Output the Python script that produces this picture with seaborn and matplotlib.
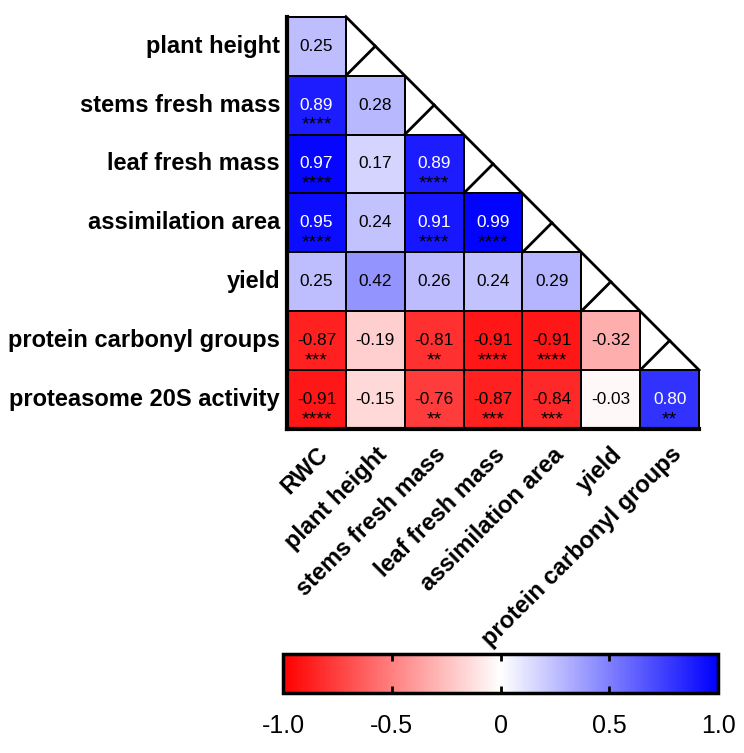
import numpy as np
import pandas as pd
import seaborn as sns
import matplotlib
matplotlib.use("Agg")
from matplotlib import pyplot as plt

plt.rcParams["font.family"] = ["Liberation Sans", "DejaVu Sans"]

# Variables (rows / columns of the lower triangle)
row_names = ["plant height", "stems fresh mass", "leaf fresh mass", "assimilation area",
             "yield", "protein carbonyl groups", "proteasome 20S activity"]
col_names = ["RWC", "plant height", "stems fresh mass", "leaf fresh mass",
             "assimilation area", "yield", "protein carbonyl groups"]

# Correlation values, one list per row (lower triangle)
r_plant_height = [0.25]
r_stems = [0.89, 0.28]
r_leaf = [0.97, 0.17, 0.89]
r_assim = [0.95, 0.24, 0.91, 0.99]
r_yield = [0.25, 0.42, 0.26, 0.24, 0.29]
r_carbonyl = [-0.87, -0.19, -0.81, -0.91, -0.91, -0.32]
r_proteasome = [-0.91, -0.15, -0.76, -0.87, -0.84, -0.03, 0.80]

# Significance stars
s_plant_height = [""]
s_stems = ["****", ""]
s_leaf = ["****", "", "****"]
s_assim = ["****", "", "****", "****"]
s_yield = ["", "", "", "", ""]
s_carbonyl = ["***", "", "**", "****", "****", ""]
s_proteasome = ["****", "", "**", "***", "***", "", "**"]

cbar_ticks = [-1.0, -0.5, 0, 0.5, 1.0]
cbar_labels = ["-1.0", "-0.5", "0", "0.5", "1.0"]

values = [r_plant_height, r_stems, r_leaf, r_assim, r_yield, r_carbonyl, r_proteasome]
stars = [s_plant_height, s_stems, s_leaf, s_assim, s_yield, s_carbonyl, s_proteasome]

n = len(row_names)
mat = np.full((n, len(col_names)), np.nan)
for i, row in enumerate(values):
    mat[i, :len(row)] = row
df = pd.DataFrame(mat, index=row_names, columns=col_names)
mask = df.isna()

fig = plt.figure(figsize=(7.44, 7.53), dpi=100)
ax = fig.add_axes([0.3858, 0.4303, 0.5538, 0.5475])
cax = fig.add_axes([0.3804, 0.0797, 0.5847, 0.0518])

sns.heatmap(df, ax=ax, cmap="bwr_r", vmin=-1, vmax=1, mask=mask,
            linewidths=1.2, linecolor="black", cbar=False)
mesh = ax.collections[0]
mesh.set_clip_on(False)
# no borders on the empty upper triangle
edge = np.tile([0.0, 0.0, 0.0, 1.0], (mask.size, 1))
edge[mask.values.ravel(), 3] = 0.0
mesh.set_edgecolor(edge)

# numbers and stars
for i, row in enumerate(values):
    for j, v in enumerate(row):
        color = "white" if v >= 0.8 else "black"
        ax.text(j + 0.5, i + 0.5, f"{v:.2f}", ha="center", va="center",
                fontsize=12.4, color=color)
        if stars[i][j]:
            ax.text(j + 0.5, i + 0.84, stars[i][j], ha="center", va="center",
                    fontsize=14, color="black")

# empty diagonal cells: hypotenuse + line from lower-left corner to centre
ax.plot([1, n], [0, n - 1], color="black", lw=2, clip_on=False)
for i in range(n - 1):
    ax.plot([i + 1, i + 1.5], [i + 1, i + 0.5], color="black", lw=2, clip_on=False)

for side in ["left", "bottom"]:
    ax.spines[side].set_visible(True)
    ax.spines[side].set_linewidth(3)
    ax.spines[side].set_color("black")
ax.spines["top"].set_visible(False)
ax.spines["right"].set_visible(False)

ax.set_yticklabels(row_names, rotation=0, fontsize=17, fontweight="bold")
ax.set_xticklabels(col_names, rotation=45, ha="right", rotation_mode="anchor",
                   fontsize=17, fontweight="bold")
ax.tick_params(axis="both", length=0)
ax.tick_params(axis="y", pad=5)
ax.tick_params(axis="x", pad=10)
ax.set_xlabel("")
ax.set_ylabel("")

cb = fig.colorbar(mesh, cax=cax, orientation="horizontal")
cb.outline.set_linewidth(2.5)
cb.outline.set_edgecolor("black")
cax.set_xticks(cbar_ticks)
cax.set_xticklabels(cbar_labels)
cax.tick_params(axis="x", direction="in", top=True, bottom=True, length=5, width=2,
                labelsize=18, pad=15)

fig.savefig("out.png", dpi=100)
